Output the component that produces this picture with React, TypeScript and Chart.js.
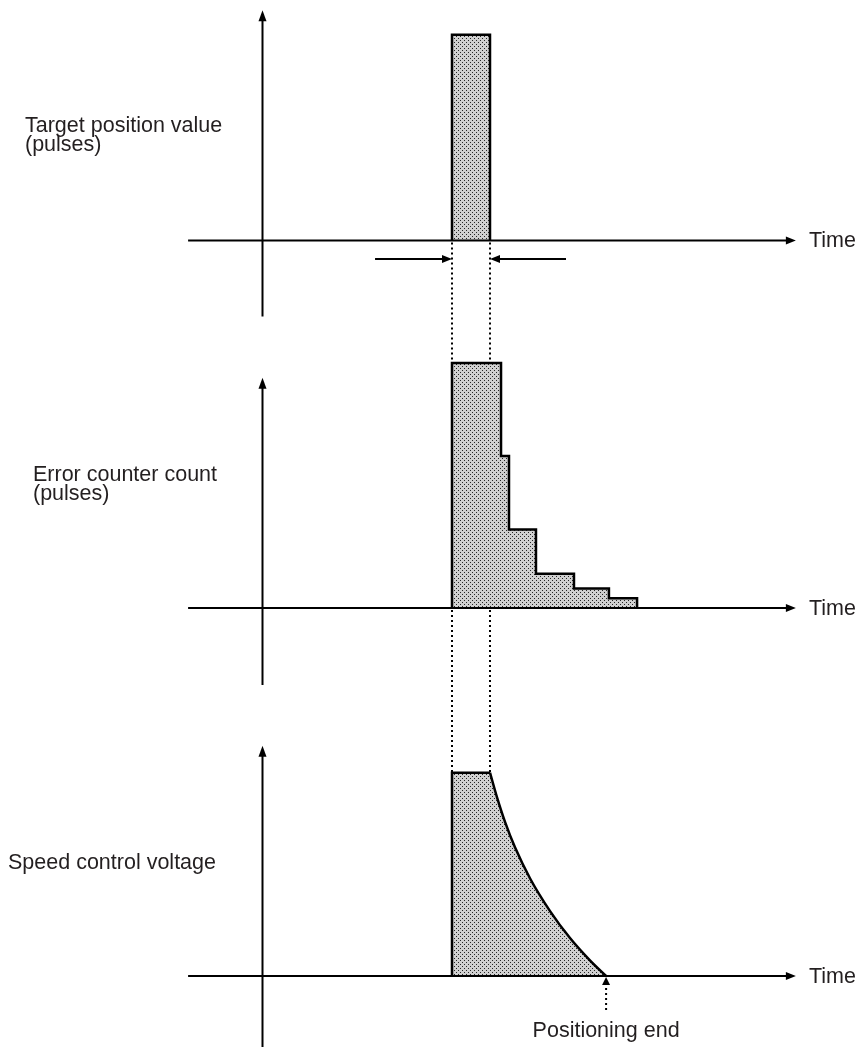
import React, { useEffect, useRef } from 'react';
import { Chart, registerables } from 'chart.js';

Chart.register(...registerables);

// ---------- data (time in arbitrary units, y axis at t = 0) ----------
const targetPulseTimes = [10, 12];          // start / end of the target pulse
const targetPulseValue = 84;

const errorStepTimes = [10, 12.58, 13.0, 14.42, 16.42, 18.26];
const errorStepValues = [100, 62, 32, 14, 8, 4];
const errorEndTime = 19.74;

const speedHoldTimes = [10, 12];
const speedHoldValue = 83;
const speedDecayTimes = [12, 12.37, 12.79, 13.32, 14.11, 15.16, 16.21, 17.26, 18.11];
const speedDecayValues = [83, 72.9, 62.9, 52.4, 39.8, 26.5, 15.5, 6.4, 0];

const panelLabels = [
  ['Target position value', '(pulses)'],
  ['Error counter count', '(pulses)'],
  ['Speed control voltage'],
];
const timeLabel = 'Time';
const endLabel = 'Positioning end';

// ---------- layout ----------
const W = 867;
const H = 1047;
const PX_PER_TIME = 19;
const PX_PER_VALUE = 2.45;
const ORIGIN_X = 262;
const BASELINES = [240.5, 608, 976];
const TIME_AXIS_RANGE = [-3.89, 28.1];
const VALUE_AXIS_RANGES = [[-31, 94], [-31.4, 94], [-29, 94]];
const ARROW_TAILS = [5.95, 16.0];
const LABEL_POS = [
  { x: 25, y: [132, 151] },
  { x: 33, y: [481, 500] },
  { x: 8, y: [869] },
];
const FONT = '21.5px "Liberation Sans", Arial, Helvetica, sans-serif';
const TEXT_COLOR = '#231f20';

function arrowHead(ctx: CanvasRenderingContext2D, tx: number, ty: number, dir: string, len: number, wid: number) {
  ctx.beginPath();
  ctx.moveTo(tx, ty);
  if (dir === 'right') {
    ctx.lineTo(tx - len, ty - wid / 2);
    ctx.lineTo(tx - len, ty + wid / 2);
  } else if (dir === 'left') {
    ctx.lineTo(tx + len, ty - wid / 2);
    ctx.lineTo(tx + len, ty + wid / 2);
  } else if (dir === 'up') {
    ctx.lineTo(tx - wid / 2, ty + len);
    ctx.lineTo(tx + wid / 2, ty + len);
  }
  ctx.closePath();
  ctx.fill();
}

function seg(ctx: CanvasRenderingContext2D, x1: number, y1: number, x2: number, y2: number) {
  ctx.beginPath();
  ctx.moveTo(x1, y1);
  ctx.lineTo(x2, y2);
  ctx.stroke();
}

const diagramPlugin = {
  id: 'diagram',
  afterDatasetsDraw(chart: any) {
    const ctx: CanvasRenderingContext2D = chart.ctx;
    const xs = chart.scales.x;
    const ys = ['yTop', 'yMid', 'yBot'].map((id) => chart.scales[id]);
    const X = (t: number) => xs.getPixelForValue(t);
    ctx.save();
    ctx.strokeStyle = '#000';
    ctx.fillStyle = '#000';
    ctx.lineWidth = 2;
    ctx.lineCap = 'butt';

    // axes
    ys.forEach((sc: any, i: number) => {
      const y0 = sc.getPixelForValue(0);
      const xa = X(TIME_AXIS_RANGE[0]);
      const xb = X(TIME_AXIS_RANGE[1]);
      ctx.setLineDash([]);
      ctx.fillStyle = '#000';
      seg(ctx, xa, y0, xb - 6, y0);
      arrowHead(ctx, xb, y0, 'right', 10, 8);
      const x0 = X(0) + 0.5;
      const yb = sc.getPixelForValue(VALUE_AXIS_RANGES[i][0]);
      const yt = sc.getPixelForValue(VALUE_AXIS_RANGES[i][1]);
      seg(ctx, x0, yb, x0, yt + 6);
      arrowHead(ctx, x0, yt, 'up', 11, 8);

      ctx.fillStyle = TEXT_COLOR;
      ctx.font = FONT;
      ctx.textBaseline = 'middle';
      ctx.textAlign = 'left';
      ctx.fillText(timeLabel, xb + 13, y0 + 1);

      ctx.textBaseline = 'alphabetic';
      panelLabels[i].forEach((txt, k) => {
        ctx.fillText(txt, LABEL_POS[i].x, LABEL_POS[i].y[k]);
      });
    });

    // dotted guides between panels
    ctx.fillStyle = '#000';
    ctx.setLineDash([2, 3]);
    ctx.lineWidth = 2;
    targetPulseTimes.forEach((t) => {
      const x = Math.round(X(t));
      seg(ctx, x, ys[0].getPixelForValue(0) + 2, x, ys[1].getPixelForValue(errorStepValues[0]));
      seg(ctx, x, ys[1].getPixelForValue(0) + 2, x, ys[2].getPixelForValue(speedHoldValue));
    });

    // pulse width arrows under the target pulse
    ctx.setLineDash([]);
    const ya = ys[0].getPixelForValue(-7.6);
    const xl = X(targetPulseTimes[0]);
    const xr = X(targetPulseTimes[1]);
    seg(ctx, X(ARROW_TAILS[0]), ya, xl - 8, ya);
    arrowHead(ctx, xl, ya, 'right', 10, 8);
    seg(ctx, X(ARROW_TAILS[1]), ya, xr + 8, ya);
    arrowHead(ctx, xr, ya, 'left', 10, 8);

    // positioning end marker
    const xe = X(speedDecayTimes[speedDecayTimes.length - 1]);
    const ybase = ys[2].getPixelForValue(0);
    ctx.setLineDash([2, 3]);
    seg(ctx, xe, ybase + 34, xe, ybase + 7);
    ctx.setLineDash([]);
    arrowHead(ctx, xe, ybase + 1, 'up', 8, 8);
    ctx.fillStyle = TEXT_COLOR;
    ctx.font = FONT;
    ctx.textAlign = 'center';
    ctx.textBaseline = 'alphabetic';
    ctx.fillText(endLabel, xe, ybase + 61);

    ctx.restore();
  },
};

export default function App() {
  const ref = useRef<HTMLCanvasElement | null>(null);

  useEffect(() => {
    document.body.style.margin = '0';
    const canvas = ref.current!;
    const ctx = canvas.getContext('2d')!;
    const tile = document.createElement('canvas');
    tile.width = 4;
    tile.height = 4;
    const tg = tile.getContext('2d')!;
    tg.fillStyle = '#d0d0d0';
    tg.fillRect(0, 0, 4, 4);
    tg.fillStyle = '#262626';
    tg.fillRect(0, 0, 1, 1);
    tg.fillRect(2, 2, 1, 1);
    const pattern = ctx.createPattern(tile, 'repeat')!;

    const targetData = [
      { x: targetPulseTimes[0], y: 0 },
      { x: targetPulseTimes[0], y: targetPulseValue },
      { x: targetPulseTimes[1], y: 0 },
    ];
    const errorData = [
      { x: errorStepTimes[0], y: 0 },
      ...errorStepTimes.map((t, i) => ({ x: t, y: errorStepValues[i] })),
      { x: errorEndTime, y: 0 },
    ];
    const holdData = [
      { x: speedHoldTimes[0], y: 0 },
      { x: speedHoldTimes[0], y: speedHoldValue },
      { x: speedHoldTimes[1], y: speedHoldValue },
    ];
    const decayData = speedDecayTimes.map((t, i) => ({ x: t, y: speedDecayValues[i] }));

    const common = {
      borderColor: '#000',
      borderWidth: 2.5,
      backgroundColor: pattern,
      fill: 'origin',
      pointRadius: 0,
      borderJoinStyle: 'miter' as const,
      borderCapStyle: 'butt' as const,
    };

    const yScale = (baseline: number) => ({
      type: 'linear' as const,
      axis: 'y' as const,
      display: false,
      min: (baseline - H) / PX_PER_VALUE,
      max: baseline / PX_PER_VALUE,
    });

    const chart = new Chart(canvas, {
      type: 'line',
      data: {
        datasets: [
          { ...common, data: targetData, yAxisID: 'yTop', stepped: true },
          { ...common, data: errorData, yAxisID: 'yMid', stepped: true },
          { ...common, data: decayData, yAxisID: 'yBot', cubicInterpolationMode: 'monotone' },
          { ...common, data: holdData, yAxisID: 'yBot', tension: 0 },
        ] as any,
      },
      options: {
        responsive: false,
        animation: false,
        events: [],
        layout: { padding: 0 },
        plugins: { legend: { display: false }, tooltip: { enabled: false } },
        scales: {
          x: {
            type: 'linear',
            display: false,
            min: -ORIGIN_X / PX_PER_TIME,
            max: (W - ORIGIN_X) / PX_PER_TIME,
          },
          y: { display: false },
          yTop: yScale(BASELINES[0]),
          yMid: yScale(BASELINES[1]),
          yBot: yScale(BASELINES[2]),
        } as any,
      },
      plugins: [diagramPlugin],
    });
    return () => chart.destroy();
  }, []);

  return (
    <div style={{ width: W, height: H, background: '#fff' }}>
      <canvas ref={ref} width={W} height={H} style={{ display: 'block' }} />
    </div>
  );
}
